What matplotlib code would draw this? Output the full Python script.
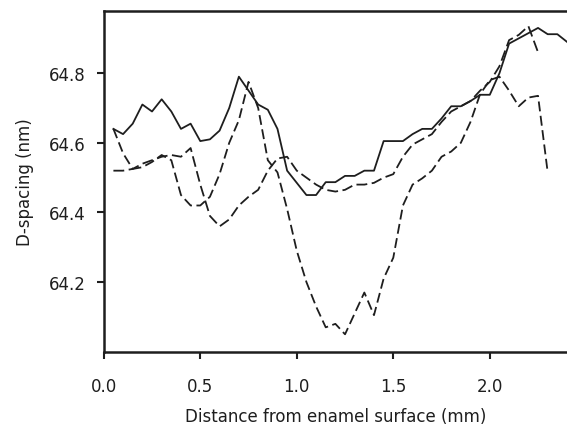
import numpy as np
import matplotlib
matplotlib.use("Agg")
import matplotlib.pyplot as plt

# distance from enamel surface (mm), sampled every 0.05 mm
dist = np.round(np.arange(1, 49) * 0.05, 2)

solid = [64.64, 64.625, 64.655, 64.71, 64.69, 64.725, 64.69, 64.64, 64.655, 64.605,
         64.61, 64.635, 64.70, 64.79, 64.75, 64.71, 64.695, 64.64, 64.52, 64.485,
         64.45, 64.45, 64.487, 64.487, 64.505, 64.505, 64.52, 64.52, 64.605, 64.605,
         64.605, 64.625, 64.64, 64.64, 64.67, 64.705, 64.705, 64.72, 64.738, 64.738,
         64.80, 64.885, 64.90, 64.915, 64.93, 64.912, 64.912, 64.89]

dash_v = [64.64, 64.57, 64.525, 64.53, 64.545, 64.565, 64.55, 64.45, 64.42, 64.42,
          64.445, 64.51, 64.60, 64.665, 64.775, 64.70, 64.55, 64.515, 64.41, 64.29,
          64.20, 64.13, 64.07, 64.08, 64.05, 64.11, 64.17, 64.105, 64.21, 64.27,
          64.42, 64.48, 64.498, 64.52, 64.56, 64.575, 64.60, 64.66, 64.74, 64.78,
          64.79, 64.75, 64.705, 64.73, 64.735, 64.515]

dash_flat = [64.52, 64.52, 64.525, 64.54, 64.55, 64.56, 64.565, 64.56, 64.585, 64.48,
             64.39, 64.36, 64.38, 64.42, 64.445, 64.465, 64.52, 64.555, 64.56, 64.52,
             64.50, 64.48, 64.465, 64.46, 64.465, 64.48, 64.48, 64.485, 64.50, 64.51,
             64.56, 64.595, 64.61, 64.625, 64.66, 64.69, 64.705, 64.72, 64.75, 64.775,
             64.82, 64.895, 64.91, 64.935, 64.86]

plt.rcParams['font.family'] = ['DejaVu Sans']
fig = plt.figure(figsize=(5.67, 4.27), dpi=100)
ax = fig.add_axes([0.183, 0.174, 0.817, 0.799])

ink = '#1e1e1e'
ax.plot(dist[:len(solid)], solid, color=ink, lw=1.3)
ax.plot(dist[:len(dash_v)], dash_v, color=ink, lw=1.3, dashes=(5.5, 2.5))
ax.plot(dist[:len(dash_flat)], dash_flat, color=ink, lw=1.3, dashes=(6, 2.5))

ax.set_xlim(0, 2.4)
ax.set_ylim(64.0, 64.98)
ax.set_xticks([0.0, 0.5, 1.0, 1.5, 2.0])
ax.set_xticklabels(['0.0', '0.5', '1.0', '1.5', '2.0'])
ax.set_yticks([64.2, 64.4, 64.6, 64.8])
ax.set_yticklabels(['64.2', '64.4', '64.6', '64.8'])
ax.tick_params(direction='out', length=5, width=1.5, labelsize=12, colors=ink)
ax.tick_params(axis='x', pad=13)
ax.tick_params(axis='y', pad=8)
ax.spines['right'].set_visible(False)
for s in ['left', 'bottom', 'top']:
    ax.spines[s].set_linewidth(1.8)
    ax.spines[s].set_color(ink)

ax.set_xlabel('Distance from enamel surface (mm)', fontsize=12, labelpad=9, color=ink)
ax.set_ylabel('D-spacing (nm)', fontsize=12, labelpad=11, color=ink)

fig.savefig('out.png', dpi=100)
